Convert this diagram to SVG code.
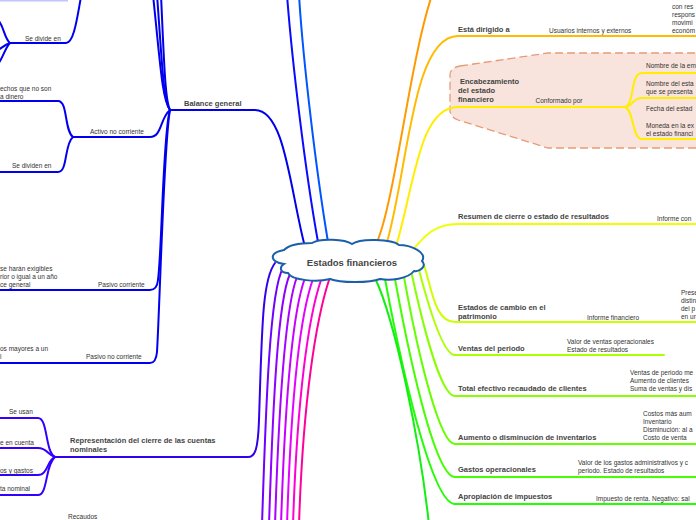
<svg xmlns="http://www.w3.org/2000/svg" width="696" height="520" viewBox="0 0 696 520">
<style>
.c{fill:none;stroke-width:2;stroke-linecap:round}
.b{font-family:"Liberation Sans",Arial,sans-serif;font-weight:bold;font-size:7.5px;fill:#444}
.t{font-family:"Liberation Sans",Arial,sans-serif;font-size:6.5px;fill:#333}
.ctr{font-family:"Liberation Sans",Arial,sans-serif;font-weight:bold;font-size:9.5px;fill:#444}
</style>
<rect width="696" height="520" fill="#ffffff"/>
<rect x="0" y="-6" width="68" height="7.5" fill="#c4c4ff"/>
<g id="node-encabezamiento-box">
<path d="M 460 66 L 548 53 L 710 53 L 710 148 L 548 148 L 458 120 Q 450 117 450 110 L 450 75 Q 450 68 460 66 Z" fill="#f8e4dc" stroke="#e89a78" stroke-width="1.3" stroke-dasharray="8,4"/>
</g>
<g id="connectors">
<path class="c" stroke="#0000ee" d="M 305 247 C 290 190, 285 110, 255 110 L 170 110"/>
<path class="c" stroke="#0a0aff" d="M 318 242 C 305 170, 292 60, 287 -5"/>
<path class="c" stroke="#0055ff" d="M 328 242 C 316 170, 303 60, 299 -5"/>
<path class="c" stroke="#0000ee" d="M 170 110 C 162 100, 160 60, 153 -5"/>
<path class="c" stroke="#0000ee" d="M 170 110 C 163 100, 162 60, 157 -5"/>
<path class="c" stroke="#0000ee" d="M 170 110 C 165 100, 164 60, 161 -5"/>
<path class="c" stroke="#0000ee" d="M 170 110 C 160 118, 162 137, 150 137 L 73 137"/>
<path class="c" stroke="#0000ee" d="M 170 110 C 163 130, 162 250, 158 280 Q 157 290 150 290 L -2 290"/>
<path class="c" stroke="#0000ee" d="M 170 110 C 164 140, 160 300, 157 352 Q 156 363 150 363 L -2 363"/>
<path class="c" stroke="#0000ee" d="M 73 137 C 64 130, 68 101, 58 101 L -2 101"/>
<path class="c" stroke="#0000ee" d="M 73 137 C 64 144, 68 172, 58 172 L -2 172"/>
<path class="c" stroke="#0000ee" d="M 82 -8 C 78 10, 75 43, 66 43 L 10 43"/>
<path class="c" stroke="#0000ee" d="M 10 43 C 4 38, 4 26, -2 20"/>
<path class="c" stroke="#0000ee" d="M 10 43 C 4 45, 2 48, -2 50"/>
<path class="c" stroke="#0000ee" d="M 10 43 C 5 48, 3 58, -2 64"/>
<path class="c" stroke="#3300ee" d="M 275 263 C 262 280, 262 330, 259 420 C 258 450, 255 457, 248 457 L 55 457"/>
<path class="c" stroke="#3300ff" d="M 55 457 C 45 452, 48 418, 38 418 L -2 418"/>
<path class="c" stroke="#3300ff" d="M 55 457 C 48 455, 47 448, 38 448 L -2 448"/>
<path class="c" stroke="#3300ff" d="M 55 457 C 47 460, 48 475, 38 475 L -2 475"/>
<path class="c" stroke="#3300ff" d="M 55 457 C 45 465, 48 495, 38 495 L -2 495"/>
<path class="c" stroke="#7000ff" d="M 283 268 C 270 290, 266 400, 262 525"/>
<path class="c" stroke="#8f00ff" d="M 290 274 C 278 300, 273 400, 269 525"/>
<path class="c" stroke="#aa00ff" d="M 297 277 C 286 305, 279 400, 275 525"/>
<path class="c" stroke="#c800ff" d="M 305 278 C 293 310, 285 400, 281 525"/>
<path class="c" stroke="#e600ff" d="M 313 279 C 300 315, 291 400, 287 525"/>
<path class="c" stroke="#ff00d0" d="M 321 280 C 308 318, 297 400, 293 525"/>
<path class="c" stroke="#ff0099" d="M 329 280 C 316 320, 303 400, 299 525"/>
<path class="c" stroke="#ff9900" d="M 377 242 C 395 200, 410 60, 432 -5"/>
<path class="c" stroke="#ffbb00" d="M 387 242 C 408 170, 412 36, 458 36 L 700 36"/>
<path class="c" stroke="#ffee00" d="M 397 243 C 415 180, 420 107, 458 107 L 625 107"/>
<path class="c" stroke="#eeff00" d="M 412 251 C 425 235, 435 224, 458 224 L 700 224"/>
<path class="c" stroke="#ffee00" d="M 625 107 C 635 104, 630 73, 642 73 L 700 73"/>
<path class="c" stroke="#ffee00" d="M 625 107 C 634 106, 632 98, 642 98 L 700 98"/>
<path class="c" stroke="#ffee00" d="M 625 107 C 634 110, 632 139, 642 139 L 700 139"/>
<path class="c" stroke="#ccff00" d="M 424 265 C 432 290, 435 322, 455 322 L 700 322"/>
<path class="c" stroke="#aaff00" d="M 419 270 C 430 312, 444 355, 455 355 L 664 355"/>
<path class="c" stroke="#88ff00" d="M 412 275 C 425 335, 442 396, 455 396 L 700 396"/>
<path class="c" stroke="#66ff00" d="M 404 277 C 419 360, 440 444, 455 444 L 700 444"/>
<path class="c" stroke="#44ff00" d="M 395 279 C 413 378, 437 477, 455 477 L 700 477"/>
<path class="c" stroke="#22ff00" d="M 385 279 C 406 391, 434 504, 455 504 L 700 504"/>
<path class="c" stroke="#11ee11" d="M 375 278 C 395 320, 420 440, 429 525"/>
</g>
<g id="node-central">
<path d="M 284 264 C 270 262, 268 253, 284 250 C 290 244, 305 243, 312 243 C 320 238, 345 239, 352 244 C 360 238, 392 239, 399 245 C 410 245, 428 252, 422 261 C 427 266, 420 272, 414 271 C 408 279, 390 281, 380 279 C 370 283, 340 283, 330 279 C 318 282, 292 281, 288 273 C 280 273, 279 267, 284 264 Z" fill="#ffffff" stroke="#1c5fa8" stroke-width="2"/>
<text class="ctr" x="352" y="266" text-anchor="middle">Estados financieros</text>
</g>
<g id="node-balance"><text class="b" x="184" y="106">Balance general</text></g>
<g id="node-se-divide"><text class="t" x="25" y="41">Se divide en</text></g>
<g id="node-activo-nc"><text class="t" x="90" y="134">Activo no corriente</text></g>
<g id="node-derechos"><text class="t" x="0" y="91">echos que no son<tspan x="0" y="99">a dinero</tspan></text></g>
<g id="node-se-dividen"><text class="t" x="12" y="168">Se dividen en</text></g>
<g id="node-pasivo-c"><text class="t" x="98" y="287">Pasivo corriente</text></g>
<g id="node-exigibles"><text class="t" x="0" y="271">se harán exigibles<tspan x="0" y="279">rior o igual a un año</tspan><tspan x="0" y="287">ce general</tspan></text></g>
<g id="node-pasivo-nc"><text class="t" x="86" y="359">Pasivo no corriente</text></g>
<g id="node-mayores"><text class="t" x="0" y="351">os mayores a un<tspan x="0" y="359">l</tspan></text></g>
<g id="node-representacion"><text class="b" x="70" y="443">Representación del cierre de las cuentas<tspan x="70" y="452">nominales</tspan></text></g>
<g id="node-se-usan"><text class="t" x="9" y="414">Se usan</text></g>
<g id="node-cuenta"><text class="t" x="0" y="445">e en cuenta</text></g>
<g id="node-gastos-l"><text class="t" x="0" y="473">os y gastos</text></g>
<g id="node-nominal"><text class="t" x="0" y="491">ta nominal</text></g>
<g id="node-recaudos"><text class="t" x="68" y="519">Recaudos</text></g>
<g id="node-dirigido"><text class="b" x="458" y="32">Está dirigido a</text></g>
<g id="node-usuarios"><text class="t" x="549" y="33">Usuarios internos y externos</text></g>
<g id="node-topright"><text class="t" x="672" y="9">con res<tspan x="672" y="17">respons</tspan><tspan x="672" y="25">movimi</tspan><tspan x="672" y="33">económ</tspan></text></g>
<g id="node-encabezamiento"><text class="b" x="460" y="84">Encabezamiento<tspan x="458" y="93">del estado</tspan><tspan x="458" y="102">financiero</tspan></text></g>
<g id="node-conformado"><text class="t" x="559" y="103" text-anchor="middle">Conformado por</text></g>
<g id="node-nombre-em"><text class="t" x="646" y="68">Nombre de la em</text></g>
<g id="node-nombre-est"><text class="t" x="646" y="86">Nombre del esta<tspan x="646" y="94">que se presenta</tspan></text></g>
<g id="node-fecha"><text class="t" x="646" y="111">Fecha del estad</text></g>
<g id="node-moneda"><text class="t" x="646" y="128">Moneda en la ex<tspan x="646" y="136">el estado financi</tspan></text></g>
<g id="node-resumen"><text class="b" x="458" y="219">Resumen de cierre o estado de resultados</text></g>
<g id="node-informe-con"><text class="t" x="657" y="221">Informe con</text></g>
<g id="node-cambio"><text class="b" x="458" y="310">Estados de cambio en el<tspan x="458" y="319">patrimonio</tspan></text></g>
<g id="node-informe-fin"><text class="t" x="587" y="320">Informe financiero</text></g>
<g id="node-presenta"><text class="t" x="681" y="295">Prese<tspan x="681" y="303">distin</tspan><tspan x="681" y="311">del p</tspan><tspan x="681" y="319">en un</tspan></text></g>
<g id="node-ventas"><text class="b" x="458" y="351">Ventas del periodo</text></g>
<g id="node-valor-ventas"><text class="t" x="567" y="344">Valor de ventas operacionales<tspan x="567" y="352">Estado de resultados</tspan></text></g>
<g id="node-total"><text class="b" x="458" y="391">Total efectivo recaudado de clientes</text></g>
<g id="node-ventas-periodo"><text class="t" x="630" y="375">Ventas de periodo me<tspan x="630" y="383">Aumento de clientes</tspan><tspan x="630" y="391">Suma de ventas y dis</tspan></text></g>
<g id="node-aumento"><text class="b" x="458" y="440">Aumento o disminución de inventarios</text></g>
<g id="node-costos"><text class="t" x="643" y="416">Costos más aum<tspan x="643" y="424">Inventario</tspan><tspan x="643" y="432">Disminución: al a</tspan><tspan x="643" y="440">Costo de venta</tspan></text></g>
<g id="node-gastos"><text class="b" x="458" y="472">Gastos operacionales</text></g>
<g id="node-valor-gastos"><text class="t" x="578" y="465">Valor de los gastos administrativos y c<tspan x="578" y="473">periodo. Estado de resultados</tspan></text></g>
<g id="node-apropiacion"><text class="b" x="458" y="499">Apropiación de impuestos</text></g>
<g id="node-impuesto"><text class="t" x="596" y="501">Impuesto de renta. Negativo: sal</text></g>
</svg>
